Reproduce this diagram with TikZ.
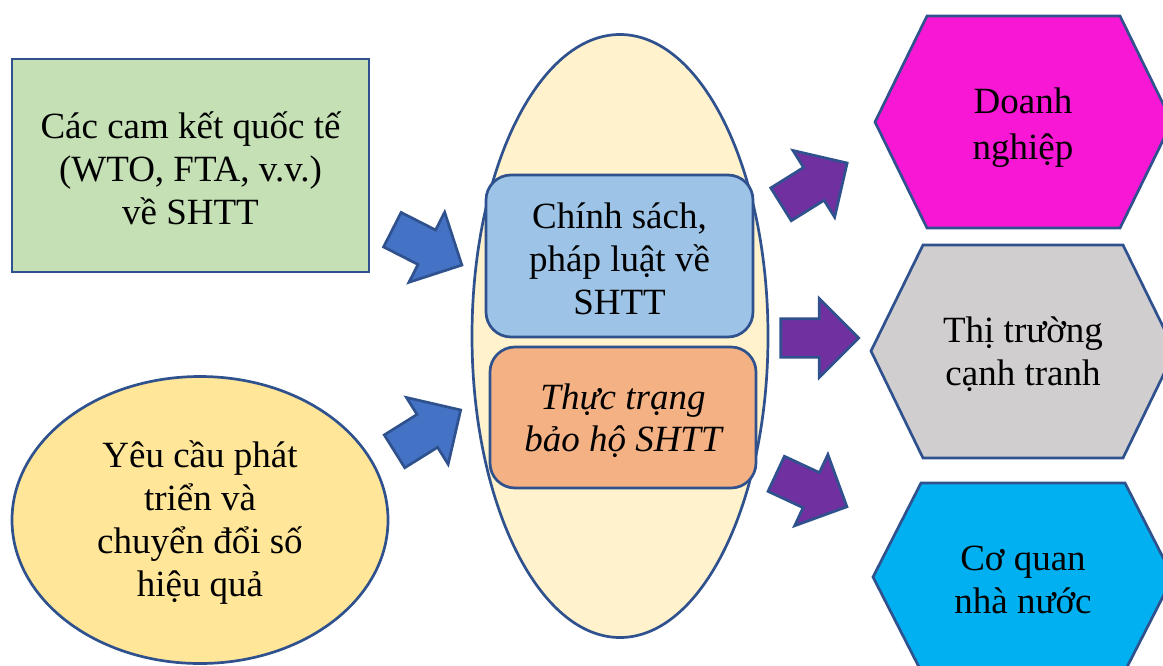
\documentclass[tikz,border=0pt]{standalone}
\usepackage{fontspec}
\setmainfont{Liberation Serif}
\usepackage{tikz}
\usetikzlibrary{%
	shapes.geometric,%
	shapes.arrows%
}
\definecolor{Outline}{HTML}{2F528F}
\definecolor{Leaf}{HTML}{C5E0B4}
\definecolor{Gold}{HTML}{FFE699}
\definecolor{Cream}{HTML}{FFF2CC}
\definecolor{Sky}{HTML}{9DC3E6}
\definecolor{Peach}{HTML}{F4B183}
\definecolor{Royal}{HTML}{4472C4}
\definecolor{Plum}{HTML}{7030A0}
\definecolor{Pink}{HTML}{F817D4}
\definecolor{Ash}{HTML}{D0CECE}
\definecolor{Azure}{HTML}{00B0F0}

\begin{document}
\begin{tikzpicture}[x=1pt,y=-1pt,
	box/.style={draw=Outline,line width=2.7pt,inner sep=0pt},
	blockarrow/.style={shape=single arrow,draw=Outline,line width=2.7pt,inner xsep=0pt,inner ysep=18pt,single arrow head extend=20pt,minimum height=78pt,minimum width=0pt},
	hexa/.style={draw=Outline,line width=2.7pt},
	lbl/.style={align=center,yshift=-3pt,font=\fontsize{37}{43}\selectfont}]

\useasboundingbox (0,0) rectangle (1163,665);
\clip (0,0) rectangle (1163,665);

\node [box,fill=Leaf,minimum width=357pt,minimum height=213pt] (cam) at (190.5,165.5) {};
\node [lbl] (camtxt) at (cam) {Các cam kết quốc tế\\(WTO, FTA, v.v.)\\về SHTT};

\node [box,fill=Gold,ellipse,minimum width=376pt,minimum height=287pt] (yeu) at (200,520) {};
\node [lbl] (yeutxt) at (yeu) {Yêu cầu phát\\triển và\\chuyển đổi số\\hiệu quả};

\node [box,fill=Cream,ellipse,minimum width=296pt,minimum height=603pt] (core) at (620,336) {};

\node [box,fill=Sky,rounded corners=25pt,minimum width=267pt,minimum height=162pt] (chinh) at (619.5,256) {};
\node [lbl] (chinhtxt) at (chinh) {Chính sách,\\pháp luật về\\SHTT};

\node [box,fill=Peach,rounded corners=25pt,minimum width=266pt,minimum height=141pt] (thuc) at (623,417.5) {};
\node [lbl,font=\fontsize{37}{42}\selectfont\itshape] (thuctxt) at (thuc) {Thực trạng\\bảo hộ SHTT};

% block arrows
\node [blockarrow,fill=Royal,rotate=-27] (in1) at (418.5,243) {};
\node [blockarrow,fill=Royal,rotate=32] (in2) at (419.4,435.8) {};

\node [blockarrow,fill=Plum,rotate=32] (out1) at (805.9,188.8) {};
\node [blockarrow,fill=Plum] (out2) at (810,338) {};
\node [blockarrow,fill=Plum,rotate=-25] (out3) at (802.8,486.2) {};

% hexagons
\draw [hexa,fill=Pink] (875,122) -- (927,16) -- (1120,16) -- (1172,122) -- (1120,228) -- (927,228) -- cycle;
\node [lbl,font=\fontsize{37}{46}\selectfont] (dn) at (1023,125) {Doanh\\nghiệp};

\draw [hexa,fill=Ash] (871,351) -- (923,245) -- (1123,245) -- (1175,351) -- (1123,458) -- (923,458) -- cycle;
\node [lbl] (tt) at (1023,351) {Thị trường\\cạnh tranh};

\draw [hexa,fill=Azure] (873,577) -- (921,483) -- (1125,483) -- (1173,577) -- (1125,671) -- (921,671) -- cycle;
\node [lbl] (cq) at (1023,577) {Cơ quan\\nhà nước};

\end{tikzpicture}
\end{document}
